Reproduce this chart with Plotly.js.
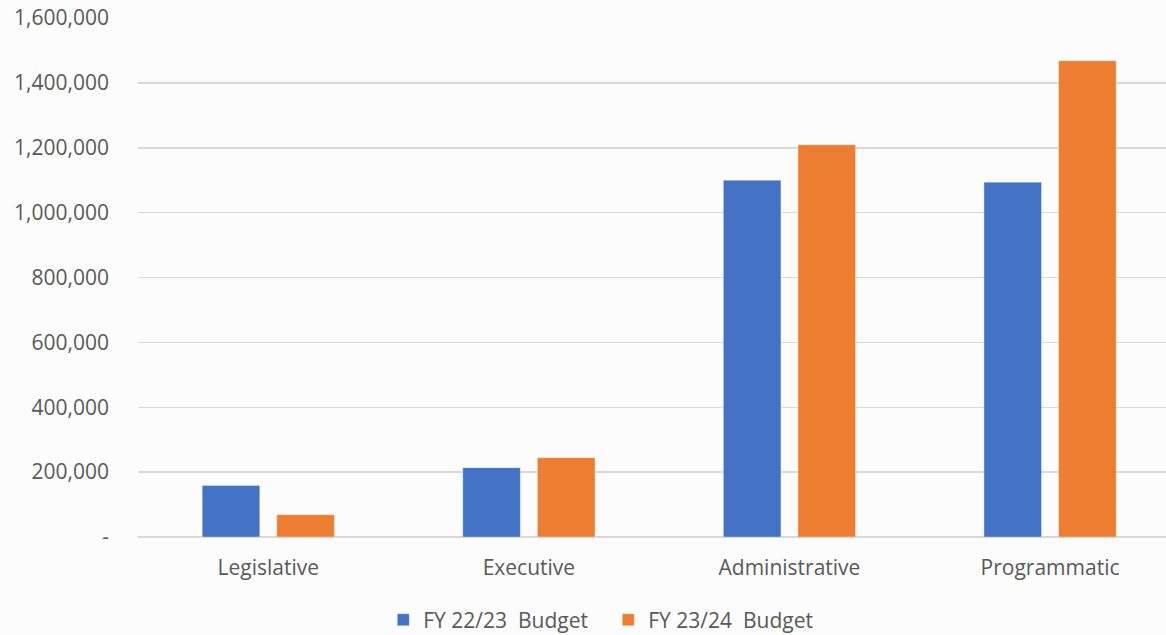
<!DOCTYPE html>
<html>
<head>
<meta charset="utf-8">
<script src="https://cdn.plot.ly/plotly-3.0.1.min.js"></script>
<style>
  html, body { margin: 0; padding: 0; background: #fcfcfc; }
  #chart { width: 1166px; height: 635px; }
</style>
</head>
<body>
<div id="chart"></div>
<script>
// Budget by function, two fiscal years
const categories = ['Legislative', 'Executive', 'Administrative', 'Programmatic'];
const fy2223 = [158600, 213600, 1100000, 1094000];
const fy2324 = [68700, 244500, 1209000, 1468000];
const seriesNames = ['FY 22/23\u00a0 Budget', 'FY 23/24\u00a0 Budget'];
const yTickVals = [0, 200000, 400000, 600000, 800000, 1000000, 1200000, 1400000, 1600000];
const yTickText = ['-', '200,000', '400,000', '600,000', '800,000', '1,000,000', '1,200,000', '1,400,000', '1,600,000'];

const textColor = '#595959';
const fontFamily = 'Open Sans, Noto Sans, sans-serif';
const fontSize = 21;

const barWidth = 0.221;
const traces = [
  {
    type: 'bar', name: seriesNames[0], x: categories, y: fy2223,
    width: barWidth, offset: -0.2537,
    marker: { color: '#4472C4', line: { color: 'rgba(255,255,255,0.35)', width: 1 } },
    hoverinfo: 'x+y'
  },
  {
    type: 'bar', name: seriesNames[1], x: categories, y: fy2324,
    width: barWidth, offset: 0.0327,
    marker: { color: '#ED7D31', line: { color: 'rgba(255,255,255,0.35)', width: 1 } },
    hoverinfo: 'x+y'
  }
];

const layout = {
  width: 1166, height: 635,
  margin: { l: 137.6, r: 0, t: 18, b: 98, autoexpand: false },
  paper_bgcolor: '#fcfcfc',
  plot_bgcolor: '#fcfcfc',
  barmode: 'overlay',
  font: { family: fontFamily, color: textColor, size: fontSize },
  xaxis: {
    type: 'category',
    range: [-0.5, 3.445],
    showgrid: false,
    showline: false,
    zeroline: false,
    ticks: '',
    ticklabelstandoff: 16,
    tickfont: { size: fontSize, color: textColor },
    fixedrange: true
  },
  yaxis: {
    range: [0, 1600000],
    tickvals: yTickVals,
    ticktext: yTickText,
    showgrid: true,
    gridcolor: '#d9d9d9',
    gridwidth: 1.5,
    zeroline: true,
    zerolinecolor: '#d9d9d9',
    zerolinewidth: 1.5,
    showline: false,
    ticks: '',
    ticklabelstandoff: 28,
    tickfont: { size: fontSize, color: textColor },
    fixedrange: true
  },
  showlegend: true,
  legend: {
    orientation: 'h',
    x: 0.2386, xanchor: 'left',
    y: -0.16, yanchor: 'middle',
    font: { size: fontSize, color: textColor },
    itemwidth: 30,
    entrywidth: 180,
    entrywidthmode: 'pixels',
    traceorder: 'normal',
    bgcolor: 'rgba(0,0,0,0)'
  }
};

Plotly.newPlot('chart', traces, layout, { displayModeBar: false, staticPlot: true });
</script>
</body>
</html>
